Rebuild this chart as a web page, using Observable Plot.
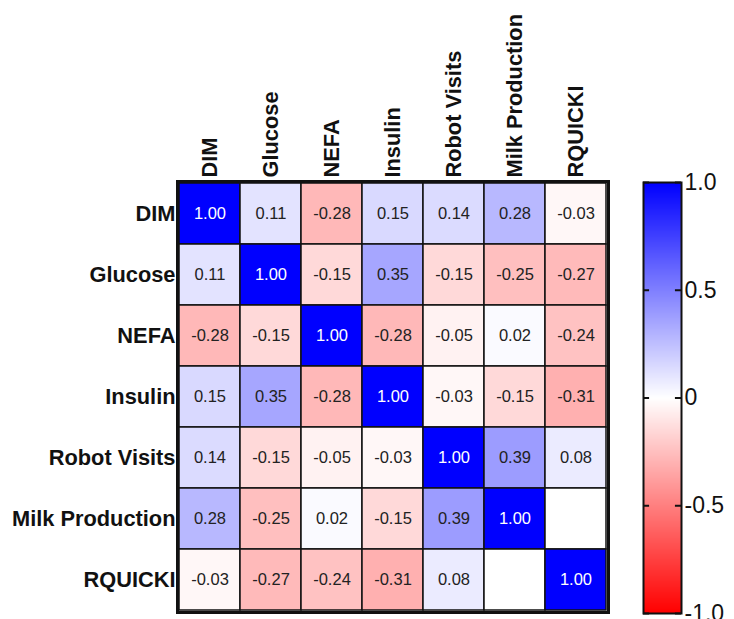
<!DOCTYPE html>
<html>
<head>
<meta charset="utf-8">
<script src="https://cdn.jsdelivr.net/npm/d3@7"></script>
<script src="https://cdn.jsdelivr.net/npm/@observablehq/plot@0.6"></script>
<style>
  body { margin: 0; background: white; }
  #wrap { position: relative; width: 734px; height: 619px; overflow: hidden; }
  #wrap svg { position: absolute; top: 0; }
</style>
</head>
<body>
<div id="wrap"></div>
<script>
const variables = ["DIM", "Glucose", "NEFA", "Insulin", "Robot Visits", "Milk Production", "RQUICKI"];
const dim            = [ 1.00,  0.11, -0.28,  0.15,  0.14,  0.28, -0.03];
const glucose        = [ 0.11,  1.00, -0.15,  0.35, -0.15, -0.25, -0.27];
const nefa           = [-0.28, -0.15,  1.00, -0.28, -0.05,  0.02, -0.24];
const insulin        = [ 0.15,  0.35, -0.28,  1.00, -0.03, -0.15, -0.31];
const robotVisits    = [ 0.14, -0.15, -0.05, -0.03,  1.00,  0.39,  0.08];
const milkProduction = [ 0.28, -0.25,  0.02, -0.15,  0.39,  1.00,  null];
const rquicki        = [-0.03, -0.27, -0.24, -0.31,  0.08,  null,  1.00];
const colorTicks = [-1, -0.5, 0, 0.5, 1];

const rows = [dim, glucose, nefa, insulin, robotVisits, milkProduction, rquicki];
const cells = [];
rows.forEach((vals, i) => vals.forEach((v, j) => cells.push({row: variables[i], col: variables[j], v})));

const colorOpts = {type: "linear", domain: [-1, 0, 1], range: ["#ff0000", "#ffffff", "#0000ff"], interpolate: "rgb"};
const font = "'Liberation Sans', Arial, Helvetica, sans-serif";

const main = Plot.plot({
  width: 734, height: 619,
  marginLeft: 177, marginRight: 126, marginTop: 181, marginBottom: 7,
  style: {fontFamily: font, background: "transparent", color: "black"},
  x: {domain: variables, padding: 0, axis: null},
  y: {domain: variables, padding: 0, axis: null},
  color: colorOpts,
  marks: [
    Plot.cell(cells, {x: "col", y: "row", fill: d => d.v ?? 0, stroke: "#111", strokeWidth: 1.5, inset: 0}),
    Plot.text(cells.filter(d => d.v != null), {
      x: "col", y: "row", text: d => d.v.toFixed(2),
      fill: d => d.v === 1 ? "white" : "#222", fontSize: 16.5, fontWeight: "normal"
    }),
    Plot.axisX({anchor: "top", tickRotate: -90, tickSize: 0, tickPadding: 4, fontSize: 21.8, fontWeight: "bold", label: null, fill: "#111"}),
    Plot.axisY({anchor: "left", tickSize: 0, tickPadding: 2, fontSize: 21.8, fontWeight: "bold", label: null, fill: "#111"}),
    Plot.frame({stroke: "#111", strokeWidth: 3})
  ]
});
main.style.left = "0px";

const bar = Plot.plot({
  width: 104, height: 619,
  marginLeft: 13, marginRight: 53, marginTop: 182, marginBottom: 6,
  style: {fontFamily: font, background: "transparent", color: "black", overflow: "visible"},
  x: {domain: [0, 1], axis: null},
  y: {domain: [-1, 1], axis: null},
  color: colorOpts,
  marks: [
    Plot.raster({x1: 0, x2: 1, y1: -1, y2: 1, width: 2, height: 431, fill: (x, y) => y}),
    Plot.ruleY(colorTicks, {x1: 0, x2: 0.16, stroke: "#111", strokeWidth: 2}),
    Plot.ruleY(colorTicks, {x1: 0.84, x2: 1, stroke: "#111", strokeWidth: 2}),
    Plot.axisY(colorTicks, {anchor: "right", tickSize: 0, tickPadding: 3, fontSize: 23,
      tickFormat: d => d === 0 ? "0" : d.toFixed(1), label: null, fill: "#111"}),
    Plot.frame({stroke: "#111", strokeWidth: 2})
  ]
});
bar.style.left = "630px";

const wrap = document.getElementById("wrap");
wrap.appendChild(main);
wrap.appendChild(bar);
</script>
</body>
</html>
